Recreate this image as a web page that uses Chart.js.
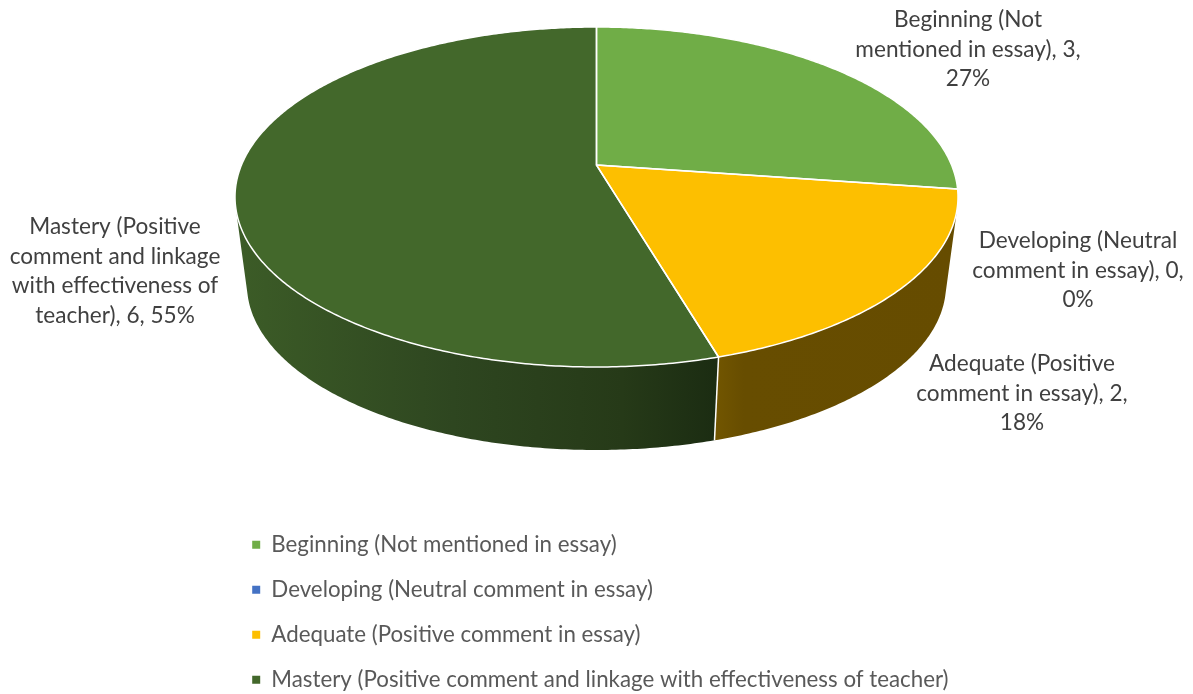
<!DOCTYPE html>
<html>
<head>
<meta charset="utf-8">
<style>html,body{margin:0;padding:0;background:#fff}canvas{display:block}</style>
<script src="https://cdn.jsdelivr.net/npm/chart.js@4/dist/chart.umd.min.js"></script>
</head>
<body>
<canvas id="c" width="1193" height="694"></canvas>
<script>
const categories = [
  'Beginning (Not mentioned in essay)',
  'Developing (Neutral comment in essay)',
  'Adequate (Positive comment in essay)',
  'Mastery (Positive comment and linkage with effectiveness of teacher)'
];
const values = [3, 0, 2, 6];
const colors = ['#70AD47', '#4472C4', '#FDBF00', '#43682B'];
const sideStops = [
  null,
  null,
  [[0, '#725600'], [0.12, '#674d00'], [1, '#664c00']],
  [[0, '#3c5c27'], [0.45, '#2e4620'], [0.8, '#263a18'], [1, '#1b2c12']]
];
const labelLines = [
  ['Beginning (Not', 'mentioned in essay), 3,', '27%'],
  ['Developing (Neutral', 'comment in essay), 0,', '0%'],
  ['Adequate (Positive', 'comment in essay), 2,', '18%'],
  ['Mastery (Positive', 'comment and linkage', 'with effectiveness of', 'teacher), 6, 55%']
];
const labelAnchors = [[968, 20], [1078, 241], [1022, 364], [115, 227]];

const FONT = 'Lato';
const persp = -0.188;
const topFace = {cx: 596.5, cy: 197, rx: 361.5, ry: 170};
const baseFace = {cx: 596.5, cy: 285, rx: 349.5, ry: 165};
const frontStart = 14.4 * Math.PI / 180;
const frontEnd = 165.6 * Math.PI / 180;

function project(face, angle) {
  const c = Math.cos(angle), s = Math.sin(angle), d = 1 + persp * s;
  return [
    face.cx + face.rx * c * Math.sqrt(1 - persp * persp) / d,
    face.cy + face.ry * (s + persp) / d
  ];
}
function rim(ctx, face, from, to, move) {
  const n = Math.max(2, Math.ceil(Math.abs(to - from) / 0.01));
  for (let i = 0; i <= n; i++) {
    const p = project(face, from + (to - from) * i / n);
    if (i === 0 && move) ctx.moveTo(p[0], p[1]); else ctx.lineTo(p[0], p[1]);
  }
}

const pie3d = {
  id: 'pie3d',
  afterLayout(chart) {
    const lg = chart.legend;
    lg.left = 229.5; lg.right = 1193; lg.top = 511; lg.bottom = 900;
  },
  beforeDatasetDraw(chart) {
    const ctx = chart.ctx;
    const arcs = chart.getDatasetMeta(0).data;
    ctx.save();
    // side walls
    arcs.forEach((arc, i) => {
      const from = Math.max(arc.startAngle, frontStart);
      const to = Math.min(arc.endAngle, frontEnd);
      if (to <= from || !sideStops[i]) return;
      const a = project(topFace, from), b = project(topFace, to);
      const c = project(baseFace, from), d = project(baseFace, to);
      const x0 = Math.min(a[0], b[0], c[0], d[0]), x1 = Math.max(a[0], b[0], c[0], d[0]);
      const g = ctx.createLinearGradient(x0, 0, x1, 0);
      sideStops[i].forEach(s => g.addColorStop(s[0], s[1]));
      ctx.fillStyle = g;
      ctx.beginPath();
      rim(ctx, topFace, from, to, true);
      rim(ctx, baseFace, to, from, false);
      ctx.closePath();
      ctx.fill();
    });
    // top face
    const apex = [topFace.cx, topFace.cy + topFace.ry * persp];
    ctx.lineJoin = 'round';
    arcs.forEach((arc, i) => {
      if (arc.endAngle - arc.startAngle <= 0) return;
      ctx.beginPath();
      ctx.moveTo(apex[0], apex[1]);
      rim(ctx, topFace, arc.startAngle, arc.endAngle, false);
      ctx.closePath();
      ctx.fillStyle = colors[i];
      ctx.fill();
    });
    ctx.strokeStyle = '#fff';
    ctx.lineWidth = 1.5;
    arcs.forEach((arc) => {
      if (arc.endAngle - arc.startAngle <= 0) return;
      ctx.beginPath();
      ctx.moveTo(apex[0], apex[1]);
      rim(ctx, topFace, arc.startAngle, arc.endAngle, false);
      ctx.closePath();
      ctx.stroke();
      if (arc.endAngle > frontStart && arc.endAngle < frontEnd) {
        const p = project(topFace, arc.endAngle), q = project(baseFace, arc.endAngle);
        ctx.beginPath();
        ctx.moveTo(p[0], p[1]);
        ctx.lineTo(q[0], q[1]);
        ctx.stroke();
      }
    });
    // data labels
    ctx.fillStyle = '#404040';
    ctx.font = '22.6px ' + FONT;
    ctx.textAlign = 'center';
    ctx.textBaseline = 'middle';
    labelLines.forEach((lines, i) => {
      lines.forEach((t, j) => ctx.fillText(t, labelAnchors[i][0], labelAnchors[i][1] + j * 29.5));
    });
    ctx.restore();
    return false;
  }
};

new Chart(document.getElementById('c'), {
  type: 'pie',
  data: {
    labels: categories,
    datasets: [{data: values, backgroundColor: colors, borderWidth: 0}]
  },
  options: {
    responsive: false,
    animation: false,
    plugins: {
      tooltip: {enabled: false},
      legend: {
        position: 'left',
        align: 'start',
        labels: {
          boxWidth: 8,
          boxHeight: 8,
          padding: 22.7,
          color: '#595959',
          font: {family: FONT, size: 22.3}
        }
      }
    }
  },
  plugins: [pie3d]
});
</script>
</body>
</html>
